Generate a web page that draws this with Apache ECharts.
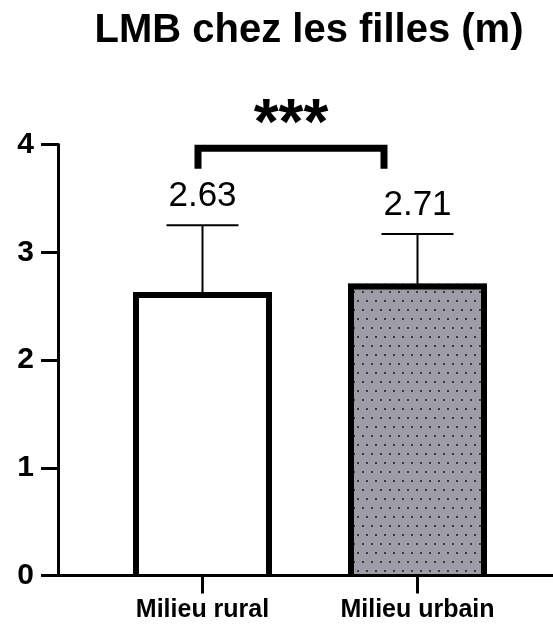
<!DOCTYPE html>
<html>
<head>
<meta charset="utf-8">
<script src="https://cdn.jsdelivr.net/npm/echarts@6/dist/echarts.min.js"></script>
<style>
  html, body { margin: 0; padding: 0; background: #fff; }
  #chart { width: 553px; height: 627px; }
</style>
</head>
<body>
<div id="chart"></div>
<script>
// Mean and standard deviation per group
const categories = ['Milieu rural', 'Milieu urbain'];
const means = [2.63, 2.71];
const sds = [0.62, 0.46];
const yTicks = [0, 1, 2, 3, 4];
const chartTitle = 'LMB chez les filles (m)';
const significance = '***';

const FONT = "'Liberation Sans', Arial, Helvetica, sans-serif";

// Grey fill with a staggered grid of small dark dots
function dotPattern() {
  const c = document.createElement('canvas');
  c.width = 9; c.height = 18;
  const g = c.getContext('2d');
  g.fillStyle = '#9e9da5';
  g.fillRect(0, 0, 9, 18);
  g.fillStyle = '#3a3a42';
  g.fillRect(2, 3, 2, 2);
  g.fillRect(6, 12, 2, 2);
  return c;
}
const fills = ['#ffffff', { image: dotPattern(), repeat: 'repeat' }];

const chart = echarts.init(document.getElementById('chart'), null, { renderer: 'canvas' });

const barData = categories.map((c, i) => [i, means[i]]);
const errData = categories.map((c, i) => [i, means[i], sds[i]]);

chart.setOption({
  animation: false,
  graphic: [{
    type: 'text', x: 309, y: 31, z: 20,
    style: { text: chartTitle, font: "bold 40px " + FONT, fill: '#000',
             textAlign: 'center', textVerticalAlign: 'middle' }
  }],
  grid: [
    { left: 58, right: 0, top: 144.5, height: 431 },
    { left: 95, width: 430, top: 144.5, height: 431 }
  ],
  xAxis: [
    { gridIndex: 0, type: 'value', min: 0, max: 1, z: 10,
      axisLine: { show: true, lineStyle: { color: '#000', width: 3 } },
      axisTick: { show: false }, axisLabel: { show: false }, splitLine: { show: false } },
    { gridIndex: 1, type: 'category', data: categories,
      axisLine: { show: false },
      axisTick: { show: true, alignWithLabel: true, length: 18, lineStyle: { color: '#000', width: 3 } },
      axisLabel: { margin: 22, color: '#000', fontSize: 25, fontWeight: 'bold', fontFamily: FONT },
      splitLine: { show: false } }
  ],
  yAxis: [
    { gridIndex: 0, type: 'value', min: 0, max: 4, interval: 1, z: 10,
      axisLine: { show: true, lineStyle: { color: '#000', width: 3 } },
      axisTick: { show: true, length: 17, lineStyle: { color: '#000', width: 3 } },
      axisLabel: { margin: 24, color: '#000', fontSize: 30, fontWeight: 'bold', fontFamily: FONT,
                   formatter: v => yTicks.includes(v) ? String(v) : '' },
      splitLine: { show: false } },
    { gridIndex: 1, type: 'value', min: 0, max: 4, show: false }
  ],
  series: [
    {
      // bars with the border drawn inside the outline, open at the base
      type: 'custom', xAxisIndex: 1, yAxisIndex: 1, z: 3,
      data: barData,
      renderItem(params, api) {
        const i = api.value(0);
        const top = api.coord([i, api.value(1)]);
        const base = api.coord([i, 0]);
        const w = 139, bw = 6;
        const x0 = top[0] - w / 2;
        return {
          type: 'group',
          children: [
            { type: 'rect', shape: { x: x0, y: top[1], width: w, height: base[1] - top[1] },
              style: { fill: fills[i] } },
            { type: 'polyline',
              shape: { points: [[x0 + bw / 2, base[1]], [x0 + bw / 2, top[1] + bw / 2],
                                [x0 + w - bw / 2, top[1] + bw / 2], [x0 + w - bw / 2, base[1]]] },
              style: { stroke: '#000', lineWidth: bw, fill: null, lineJoin: 'miter' } }
          ]
        };
      }
    },
    {
      // error bars (mean + SD) with the mean written above
      type: 'custom', xAxisIndex: 1, yAxisIndex: 1, z: 4,
      data: errData,
      renderItem(params, api) {
        const i = api.value(0), m = api.value(1), s = api.value(2);
        const p0 = api.coord([i, m]);
        const p1 = api.coord([i, m + s]);
        const cap = 36;
        return {
          type: 'group',
          children: [
            { type: 'line', shape: { x1: p0[0], y1: p0[1] + 4, x2: p1[0], y2: p1[1] },
              style: { stroke: '#000', lineWidth: 2 } },
            { type: 'line', shape: { x1: p1[0] - cap, y1: p1[1], x2: p1[0] + cap, y2: p1[1] },
              style: { stroke: '#000', lineWidth: 2 } },
            { type: 'text', x: p1[0], y: p1[1] - 29,
              style: { text: m.toFixed(2), font: "35px " + FONT, fill: '#000',
                       textAlign: 'center', textVerticalAlign: 'middle' } }
          ]
        };
      }
    },
    {
      // significance bracket between the two groups
      type: 'custom', xAxisIndex: 1, yAxisIndex: 1, z: 5,
      data: [[0, 1]],
      renderItem(params, api) {
        const a = api.coord([api.value(0), 3.965]);
        const b = api.coord([api.value(1), 3.965]);
        const leg = api.coord([0, 3.775]);
        const xl = a[0] - 4.5, xr = b[0] - 33.5;
        return {
          type: 'group',
          children: [
            { type: 'polyline',
              shape: { points: [[xl, leg[1]], [xl, a[1]], [xr, a[1]], [xr, leg[1]]] },
              style: { stroke: '#000', lineWidth: 7, fill: null, lineJoin: 'miter' } },
            { type: 'text', x: (xl + xr) / 2, y: a[1] - 22,
              style: { text: significance, font: "bold 64px " + FONT, fill: '#000',
                       textAlign: 'center', textVerticalAlign: 'middle' } }
          ]
        };
      }
    }
  ]
});
</script>
</body>
</html>
